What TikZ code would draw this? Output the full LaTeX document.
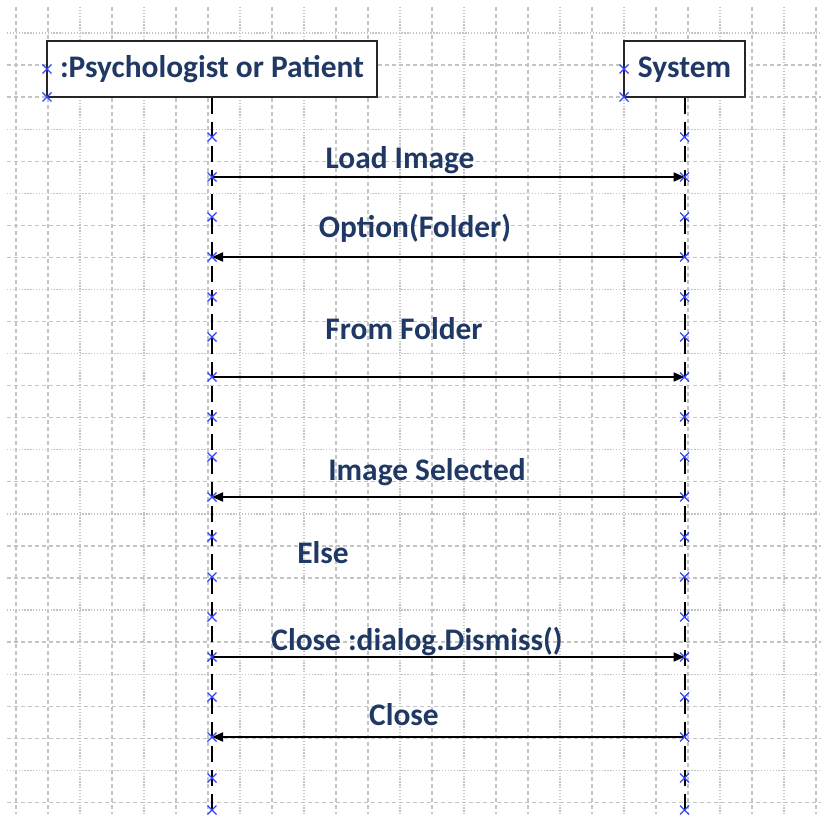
\documentclass[tikz,border=0pt]{standalone}
\usepackage{fontspec}
\setmainfont{Carlito}
\usetikzlibrary{arrows.meta}
\definecolor{navy}{RGB}{31,56,100}
\definecolor{gridgray}{RGB}{196,196,196}
\definecolor{mkblue}{RGB}{50,70,255}
\begin{document}
\begin{tikzpicture}[x=1pt,y=-1pt,
  gdash/.style={gridgray,line width=1.3pt,dash pattern=on 4pt off 3pt},
  gdot/.style={gridgray,line width=1.3pt,dash pattern=on 1.3pt off 1.6pt},
  actor/.style={draw=black!85,line width=2pt,fill=white,minimum height=56pt,inner sep=0pt,
    text height=23pt,text depth=5pt,font=\fontsize{31.4}{31.4}\bfseries\selectfont,text=navy},
  life/.style={black,line width=2pt,dash pattern=on 16pt off 8pt},
  msg/.style={black,line width=1.8pt,-{Triangle[length=11pt,width=9pt]}},
  lbl/.style={font=\fontsize{31.4}{31.4}\bfseries\selectfont,text=navy,anchor=base,inner sep=0pt},
  xm/.style={mkblue,line width=1.3pt}]
\useasboundingbox (0,0) rectangle (821,818);
\fill[white] (0,0) rectangle (821,818);
% grid
\foreach \k in {0,...,25}{
  \pgfmathtruncatemacro\r{mod(\k,5)}
  \ifnum\r=2 \draw[gdot] (16+32*\k,7) -- (16+32*\k,814);
  \else\ifnum\r=4 \draw[gdot] (16+32*\k,7) -- (16+32*\k,814);
  \else \draw[gdash] (16+32*\k,7) -- (16+32*\k,814);
  \fi\fi
}
\foreach \k in {0,...,24}{
  \pgfmathtruncatemacro\r{mod(\k,5)}
  \ifnum\r=0 \draw[gdot] (7,33+32.06*\k) -- (821,33+32.06*\k);
  \else\ifnum\r=3 \draw[gdot] (7,33+32.06*\k) -- (821,33+32.06*\k);
  \else \draw[gdash] (7,33+32.06*\k) -- (821,33+32.06*\k);
  \fi\fi
}
% actors
\node[actor,minimum width=330pt] (p) at (212,69) {:Psychologist or Patient};
\node[actor,minimum width=121pt] (s) at (684.5,69) {System};
\coordinate (pe) at (212,818);
\coordinate (se) at (684.5,818);
\draw[life] (p.south) -- (pe);
\draw[life] (s.south) -- (se);
% message anchor points
\coordinate (p1) at (212,177); \coordinate (s1) at (684.5,177);
\coordinate (p2) at (212,257); \coordinate (s2) at (684.5,257);
\coordinate (p3) at (212,377); \coordinate (s3) at (684.5,377);
\coordinate (p4) at (212,497); \coordinate (s4) at (684.5,497);
\coordinate (p5) at (212,657); \coordinate (s5) at (684.5,657);
\coordinate (p6) at (212,737); \coordinate (s6) at (684.5,737);
\draw[msg] (p1) -- (s1);
\draw[msg] (s2) -- (p2);
\draw[msg] (p3) -- (s3);
\draw[msg] (s4) -- (p4);
\draw[msg] (p5) -- (s5);
\draw[msg] (s6) -- (p6);
% labels
\node[lbl] (l1) at (400,169) {Load Image};
\node[lbl] (l2) at (415,237) {Option(Folder)};
\node[lbl] (l3) at (404,339) {From Folder};
\node[lbl] (l4) at (427,480) {Image Selected};
\node[lbl] (l5) at (323,563) {Else};
\node[lbl] (l6) at (417,650) {Close :dialog.Dismiss()};
\node[lbl] (l7) at (404,725) {Close};
% blue markers
\foreach \x/\y in {47/69,47/97,624/69,624/97}{
  \draw[xm] (\x-4.5,\y-4.5) -- (\x+4.5,\y+4.5) (\x-4.5,\y+4.5) -- (\x+4.5,\y-4.5);
}
\foreach \y in {137,177,...,737,778,810}{
  \draw[xm] (212-4.5,\y-4.5) -- (212+4.5,\y+4.5) (212-4.5,\y+4.5) -- (212+4.5,\y-4.5);
  \draw[xm] (684.5-4.5,\y-4.5) -- (684.5+4.5,\y+4.5) (684.5-4.5,\y+4.5) -- (684.5+4.5,\y-4.5);
}
\end{tikzpicture}
\end{document}
